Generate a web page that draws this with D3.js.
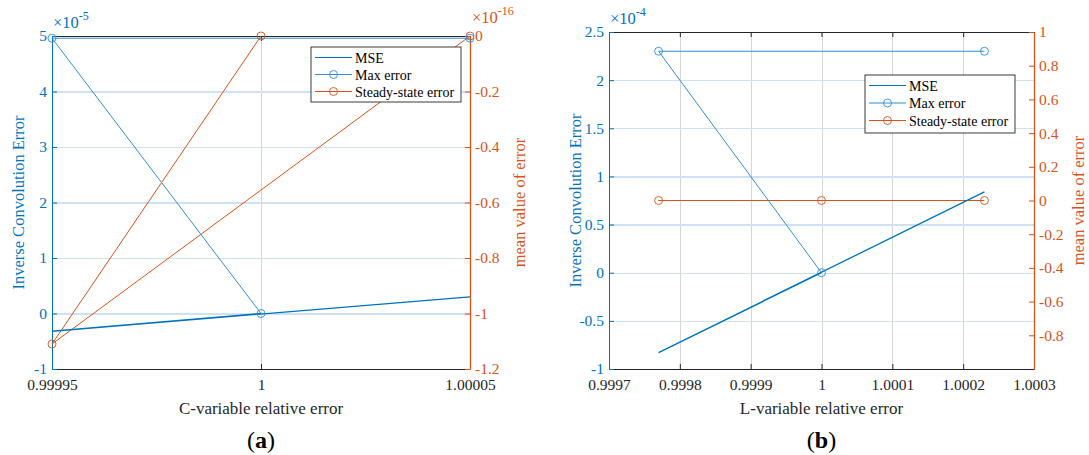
<!DOCTYPE html>
<html>
<head>
<meta charset="utf-8">
<script src="https://cdn.jsdelivr.net/npm/d3@7"></script>
<style>
  body { margin: 0; background: #fff; }
  svg { font-family: "Liberation Serif", "DejaVu Serif", "Times New Roman", serif; }
  .grid line { shape-rendering: crispEdges; }
  .grid path { display: none; }
</style>
</head>
<body>
<div id="chart"></div>
<script>
// series are listed in the plotting order used by the original (x not sorted)
const xA = [1.00005, 0.99995, 1];
const mseA = [0.3, -0.32, 0];          // x 1e-5
const maxErrA = [4.96, 4.96, 0];       // x 1e-5
const steadyA = [0, -1.11, 0];         // x 1e-16
const xTicksA = [0.99995, 1, 1.00005];
const xTickLabelsA = ["0.99995", "1", "1.00005"];
const leftTicksA = [-1, 0, 1, 2, 3, 4, 5];
const rightTicksA = [-1.2, -1, -0.8, -0.6, -0.4, -0.2, 0];

const xB = [1.00023, 0.99977, 1];
const mseB = [0.84, -0.83, 0];         // x 1e-4
const maxErrB = [2.3, 2.3, 0];         // x 1e-4
const steadyB = [0, 0, 0];
const xTicksB = [0.9997, 0.9998, 0.9999, 1, 1.0001, 1.0002, 1.0003];
const xTickLabelsB = ["0.9997", "0.9998", "0.9999", "1", "1.0001", "1.0002", "1.0003"];
const leftTicksB = [-1, -0.5, 0, 0.5, 1, 1.5, 2, 2.5];
const rightTicksB = [-0.8, -0.6, -0.4, -0.2, 0, 0.2, 0.4, 0.6, 0.8, 1];

const legendNames = ["MSE", "Max error", "Steady-state error"];

const BLUE = "#0072BD", LBLUE = "#2f8fd8", ORANGE = "#D95319", DARK = "#262626";
const SERIF = "Liberation Serif, DejaVu Serif, serif";
const TICK = 15.5;

const svg = d3.select("#chart").append("svg")
  .attr("width", 1089).attr("height", 455);

function fmt(v) { return String(+v.toFixed(4)); }

function panel(o) {
  const x = d3.scaleLinear().domain(o.xDom).range([o.left, o.right]);
  const yl = d3.scaleLinear().domain(o.lDom).range([o.bottom, o.top]);
  const yr = d3.scaleLinear().domain(o.rDom).range([o.bottom, o.top]);
  const w = o.right - o.left, h = o.bottom - o.top;
  const g = svg.append("g");

  // grid
  g.append("g").attr("class", "grid")
    .attr("transform", `translate(0,${o.bottom})`)
    .call(d3.axisBottom(x).tickValues(o.xGrid).tickSize(-h).tickFormat(""))
    .selectAll("line").attr("stroke", "#d6d6d6");
  g.append("g").attr("class", "grid")
    .attr("transform", `translate(${o.left},0)`)
    .call(d3.axisLeft(yl).tickValues(o.lTicks).tickSize(-w).tickFormat(""))
    .selectAll("line").attr("stroke", "#cfe2f3").attr("stroke-width", 1.3);

  // bottom axis
  const xb = g.append("g").attr("transform", `translate(0,${o.bottom})`)
    .call(d3.axisBottom(x).tickValues(o.xTicks).tickSizeInner(-5).tickSizeOuter(0)
      .tickPadding(10).tickFormat((d, i) => o.xLabels[i]));
  xb.select(".domain").attr("stroke", DARK);
  xb.selectAll("line").attr("stroke", DARK);
  xb.selectAll("text").attr("fill", DARK).attr("font-size", TICK)
    .attr("font-family", SERIF);
  // top axis
  const xt = g.append("g").attr("transform", `translate(0,${o.top})`)
    .call(d3.axisTop(x).tickValues(o.xTicks).tickSizeInner(-5).tickSizeOuter(0).tickFormat(""));
  xt.select(".domain").attr("stroke", DARK);
  xt.selectAll("line").attr("stroke", DARK);

  // left axis
  const al = g.append("g").attr("transform", `translate(${o.left},0)`)
    .call(d3.axisLeft(yl).tickValues(o.lTicks).tickSizeInner(-5).tickSizeOuter(0)
      .tickPadding(5).tickFormat(fmt));
  al.select(".domain").attr("stroke", BLUE);
  al.selectAll("line").attr("stroke", BLUE);
  al.selectAll("text").attr("fill", BLUE).attr("font-size", TICK)
    .attr("font-family", SERIF);

  // right axis
  const ar = g.append("g").attr("transform", `translate(${o.right},0)`)
    .call(d3.axisRight(yr).tickValues(o.rTicks).tickSizeInner(-5).tickSizeOuter(0)
      .tickPadding(5).tickFormat(fmt));
  ar.select(".domain").attr("stroke", ORANGE).attr("stroke-width", 1.3);
  ar.selectAll("line").attr("stroke", ORANGE);
  ar.selectAll("text").attr("fill", ORANGE).attr("font-size", TICK)
    .attr("font-family", SERIF);

  // series
  const lineL = d3.line().x(d => x(d[0])).y(d => yl(d[1]));
  const lineR = d3.line().x(d => x(d[0])).y(d => yr(d[1]));
  const mse = o.xs.map((v, i) => [v, o.mse[i]]);
  const mx = o.xs.map((v, i) => [v, o.max[i]]);
  const st = o.xs.map((v, i) => [v, o.steady[i]]);

  g.append("path").attr("d", lineR(st)).attr("fill", "none")
    .attr("stroke", ORANGE).attr("stroke-width", 1);
  g.selectAll(".cs").data(st).join("circle")
    .attr("cx", d => x(d[0])).attr("cy", d => yr(d[1])).attr("r", 4)
    .attr("fill", "none").attr("stroke", ORANGE).attr("stroke-width", 0.9);

  g.append("path").attr("d", lineL(mse)).attr("fill", "none")
    .attr("stroke", BLUE).attr("stroke-width", 1.3);

  g.append("path").attr("d", lineL(mx)).attr("fill", "none")
    .attr("stroke", LBLUE).attr("stroke-width", 1);
  g.selectAll(".cm").data(mx).join("circle")
    .attr("cx", d => x(d[0])).attr("cy", d => yl(d[1])).attr("r", 4)
    .attr("fill", "none").attr("stroke", LBLUE).attr("stroke-width", 0.9);

  // exponent labels
  const e1 = g.append("text").attr("x", o.left + 1).attr("y", o.top - 8)
    .attr("fill", BLUE).attr("font-size", 16.5);
  e1.append("tspan").text("\u00d710");
  e1.append("tspan").attr("dy", -8).attr("font-size", 12).text(o.lExp);
  if (o.rExp) {
    const e2 = g.append("text").attr("x", o.right + 2).attr("y", o.top - 13)
      .attr("fill", ORANGE).attr("font-size", 16.5);
    e2.append("tspan").text("\u00d710");
    e2.append("tspan").attr("dy", -8).attr("font-size", 12).text(o.rExp);
  }

  // axis titles
  const cx = (o.left + o.right) / 2, cy = (o.top + o.bottom) / 2;
  g.append("text").attr("x", cx).attr("y", 414).attr("text-anchor", "middle")
    .attr("fill", DARK).attr("font-size", 17).text(o.xTitle);
  g.append("text").attr("transform", `translate(${o.left - 28},${cy}) rotate(-90)`)
    .attr("text-anchor", "middle").attr("fill", BLUE).attr("font-size", 16.5)
    .text("Inverse Convolution Error");
  g.append("text").attr("transform", `translate(${o.right + o.rTitleDx},${cy}) rotate(-90)`)
    .attr("text-anchor", "middle").attr("fill", ORANGE).attr("font-size", 16.5)
    .text("mean value of error");

  const pl = g.append("text").attr("x", cx).attr("y", 448).attr("text-anchor", "middle")
    .attr("fill", "#000").attr("font-size", 24);
  pl.append("tspan").text("(");
  pl.append("tspan").attr("font-weight", "bold").text(o.tag);
  pl.append("tspan").text(")");

  // legend
  const lg = g.append("g").attr("transform", `translate(${o.legX},${o.legY})`);
  lg.append("rect").attr("width", o.legW).attr("height", o.legH)
    .attr("fill", "#fff").attr("stroke", DARK).attr("stroke-width", 0.9);
  const cols = [BLUE, LBLUE, ORANGE];
  legendNames.forEach((n, i) => {
    const yy = 10.5 + i * o.legStep;
    lg.append("line").attr("x1", 4).attr("x2", 41).attr("y1", yy).attr("y2", yy)
      .attr("stroke", cols[i]).attr("stroke-width", 1.2);
    if (i > 0) lg.append("circle").attr("cx", 22.5).attr("cy", yy).attr("r", 4)
      .attr("fill", "none").attr("stroke", cols[i]).attr("stroke-width", 0.9);
    lg.append("text").attr("x", 44).attr("y", yy + 5).attr("font-size", 14)
      .attr("fill", "#000").text(n);
  });
}

panel({
  left: 52, right: 470, top: 36, bottom: 369,
  xDom: [0.99995, 1.00005], lDom: [-1, 5], rDom: [-1.2, 0],
  xTicks: xTicksA, xLabels: xTickLabelsA, xGrid: [1],
  lTicks: leftTicksA, rTicks: rightTicksA,
  xs: xA, mse: mseA, max: maxErrA, steady: steadyA,
  lExp: "-5", rExp: "-16", xTitle: "C-variable relative error", tag: "a",
  legX: 311, legY: 47, legW: 150, legH: 55, legStep: 17, rTitleDx: 55
});

panel({
  left: 609, right: 1034, top: 32, bottom: 369,
  xDom: [0.9997, 1.0003], lDom: [-1, 2.5], rDom: [-1, 1],
  xTicks: xTicksB, xLabels: xTickLabelsB, xGrid: xTicksB.slice(1, -1),
  lTicks: leftTicksB, rTicks: rightTicksB,
  xs: xB, mse: mseB, max: maxErrB, steady: steadyB,
  lExp: "-4", rExp: null, xTitle: "L-variable relative error", tag: "b",
  legX: 865, legY: 75, legW: 150, legH: 58, legStep: 17.5, rTitleDx: 50
});
</script>
</body>
</html>
